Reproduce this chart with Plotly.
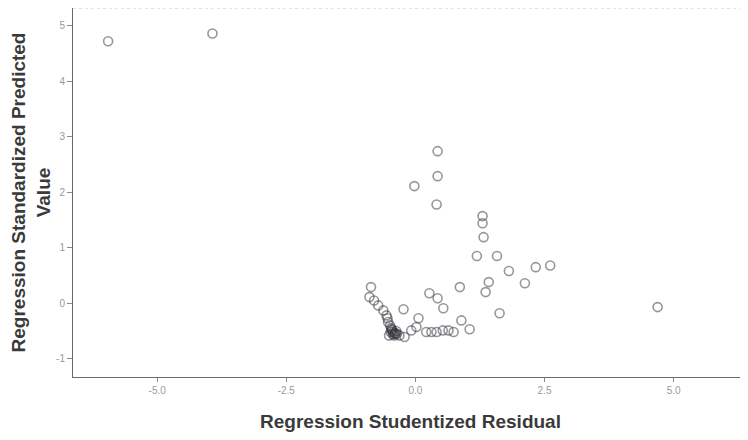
import plotly.graph_objects as go

# Regression Studentized Residual (x) vs Regression Standardized Predicted Value (y)
residual = [-5.95, -3.93, 0.43, 0.43, -0.02, 0.41, 1.30, 1.30, 1.32, 1.19,
            1.58, 1.81, 2.33, 2.61, 2.12, 1.42, 1.36, 0.86, 1.63, 4.69,
            0.27, 0.43, 0.54, 0.89, 1.05, -0.86, -0.89, -0.80, -0.72, -0.62,
            -0.56, -0.53, -0.47, -0.43, -0.51, -0.41, -0.37, -0.45, -0.23, -0.31,
            -0.21, -0.08, 0.02, 0.06, 0.21, 0.31, 0.41, 0.53, 0.64, 0.74,
            -0.49, -0.39, -0.54, -0.44, -0.40, -0.48, -0.36, -0.46]
predicted = [4.72, 4.86, 2.74, 2.29, 2.11, 1.78, 1.57, 1.44, 1.19, 0.85,
             0.85, 0.58, 0.65, 0.68, 0.36, 0.38, 0.20, 0.29, -0.18, -0.07,
             0.18, 0.09, -0.09, -0.31, -0.47, 0.29, 0.11, 0.05, -0.04, -0.13,
             -0.22, -0.34, -0.45, -0.52, -0.58, -0.58, -0.50, -0.49, -0.11, -0.58,
             -0.61, -0.49, -0.43, -0.27, -0.52, -0.52, -0.52, -0.49, -0.49, -0.52,
             -0.40, -0.54, -0.27, -0.56, -0.55, -0.52, -0.55, -0.47]

x_ticks = [-5.0, -2.5, 0.0, 2.5, 5.0]
x_tick_labels = ["-5.0", "-2.5", "0.0", "2.5", "5.0"]
y_ticks = [-1, 0, 1, 2, 3, 4, 5]
y_tick_labels = ["-1", "0", "1", "2", "3", "4", "5"]

fig = go.Figure()
fig.add_trace(go.Scatter(
    x=residual, y=predicted, mode="markers",
    marker=dict(symbol="circle-open", size=9,
                color="rgba(50,45,55,0.5)",
                line=dict(width=1.6, color="rgba(50,45,55,0.5)")),
    showlegend=False, hoverinfo="x+y"))

axis_font = dict(family="Liberation Sans, Arial, sans-serif", size=19, color="#3a3a3a")
tick_font = dict(family="Liberation Sans, Arial, sans-serif", size=10, color="#9a9a9a")

fig.update_layout(
    width=748, height=440,
    margin=dict(l=65, r=8, t=0, b=71),
    paper_bgcolor="white", plot_bgcolor="white",
    xaxis=dict(range=[-6.63, 6.44], tickvals=x_ticks, ticktext=x_tick_labels,
               automargin=False,
               showgrid=False, zeroline=False, showline=True, linecolor="#6a6a6a",
               linewidth=1, ticks="outside", ticklen=4, tickcolor="#8a8a8a",
               tickfont=tick_font,
               title=dict(text="<b>Regression Studentized Residual</b>", font=axis_font,
                          standoff=19)),
    yaxis=dict(range=[-1.33, 5.32], tickvals=y_ticks, ticktext=y_tick_labels,
               automargin=False,
               showgrid=False, zeroline=False, showline=True, linecolor="#6a6a6a",
               linewidth=1, ticks="outside", ticklen=5, tickcolor="#8a8a8a",
               tickfont=tick_font,
               title=dict(text="<b>Regression Standardized Predicted<br>Value</b>",
                          font=axis_font, standoff=6)),
    shapes=[dict(type="line", xref="paper", yref="paper", x0=0, x1=1, y0=1, y1=1,
                 line=dict(color="#c8c8c8", width=1, dash="dot"))],
)

fig.write_html("out.html")
